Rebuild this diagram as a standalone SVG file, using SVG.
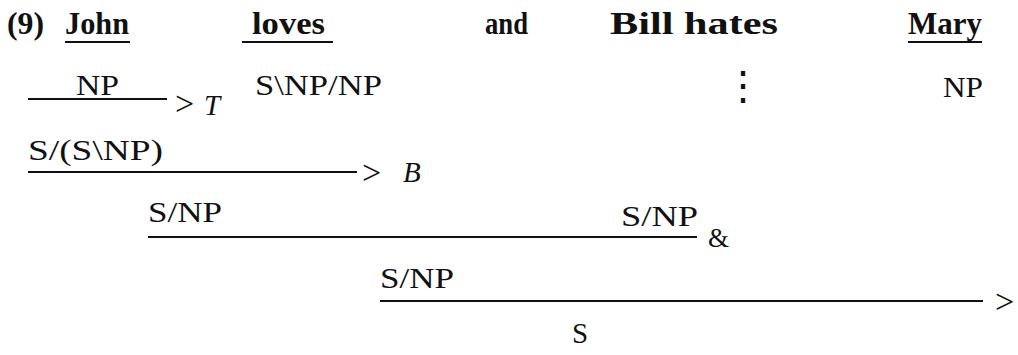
<svg xmlns="http://www.w3.org/2000/svg" width="1018" height="355" viewBox="0 0 1018 355">
  <style>
    .word { font-family: "Liberation Serif", "Times New Roman", serif; font-weight: bold; font-size: 32px; fill: #111; }
    .cat { font-family: "Liberation Serif", "Times New Roman", serif; font-size: 29px; fill: #111; }
    .rule { font-family: "Liberation Serif", "Times New Roman", serif; font-size: 34px; fill: #111; }
    .rule-i { font-family: "Liberation Serif", "Times New Roman", serif; font-style: italic; font-size: 29px; fill: #111; }
    .bar { stroke: #111; stroke-width: 2.2; fill: none; }
  </style>
  <rect width="1018" height="355" fill="#fff"/>

  <!-- example number and the sentence -->
  <g id="words">
    <text class="word" x="7" y="34" textLength="37" lengthAdjust="spacingAndGlyphs">(9)</text>
    <text class="word" x="65" y="34" textLength="64" lengthAdjust="spacingAndGlyphs">John</text>
    <text class="word" x="252" y="34" textLength="73" lengthAdjust="spacingAndGlyphs">loves</text>
    <text class="word" x="485" y="34" textLength="43" lengthAdjust="spacingAndGlyphs">and</text>
    <text class="word" x="610" y="34" textLength="168" lengthAdjust="spacingAndGlyphs">Bill hates</text>
    <text class="word" x="908" y="34" textLength="74" lengthAdjust="spacingAndGlyphs">Mary</text>
    <line class="bar" x1="65" y1="42" x2="130" y2="42"/>
    <line class="bar" x1="242" y1="42" x2="333" y2="42"/>
    <line class="bar" x1="908" y1="42" x2="982" y2="42"/>
  </g>

  <!-- lexical categories -->
  <g id="lexical">
    <text class="cat" x="76" y="95" textLength="43" lengthAdjust="spacingAndGlyphs">NP</text>
    <text class="cat" x="255" y="95" textLength="127" lengthAdjust="spacingAndGlyphs">S\NP/NP</text>
    <text class="cat" x="743" y="99" text-anchor="middle" style="font-family: 'DejaVu Serif', serif; font-size: 40px;">⋮</text>
    <text class="cat" x="943" y="97" textLength="40" lengthAdjust="spacingAndGlyphs">NP</text>
  </g>

  <!-- type raising: NP => S/(S\NP) -->
  <g id="raise">
    <line class="bar" x1="28" y1="99" x2="167" y2="99"/>
    <text class="rule" x="175" y="115">&gt;</text>
    <text class="rule-i" x="204" y="115">T</text>
    <text class="cat" x="28" y="160" textLength="135" lengthAdjust="spacingAndGlyphs">S/(S\NP)</text>
  </g>

  <!-- forward composition -->
  <g id="compose">
    <line class="bar" x1="28" y1="172" x2="357" y2="172"/>
    <text class="rule" x="362" y="184">&gt;</text>
    <text class="rule-i" x="403" y="182">B</text>
    <text class="cat" x="148" y="222" textLength="74" lengthAdjust="spacingAndGlyphs">S/NP</text>
    <text class="cat" x="621" y="226" textLength="77" lengthAdjust="spacingAndGlyphs">S/NP</text>
  </g>

  <!-- coordination -->
  <g id="coordinate">
    <line class="bar" x1="148" y1="237" x2="697" y2="237"/>
    <text class="rule" x="708" y="247" style="font-size: 27px;">&amp;</text>
    <text class="cat" x="380" y="288" textLength="74" lengthAdjust="spacingAndGlyphs">S/NP</text>
  </g>

  <!-- forward application -->
  <g id="apply">
    <line class="bar" x1="380" y1="301" x2="983" y2="301"/>
    <text class="rule" x="995" y="313">&gt;</text>
    <text class="cat" x="572" y="343">S</text>
  </g>
</svg>
